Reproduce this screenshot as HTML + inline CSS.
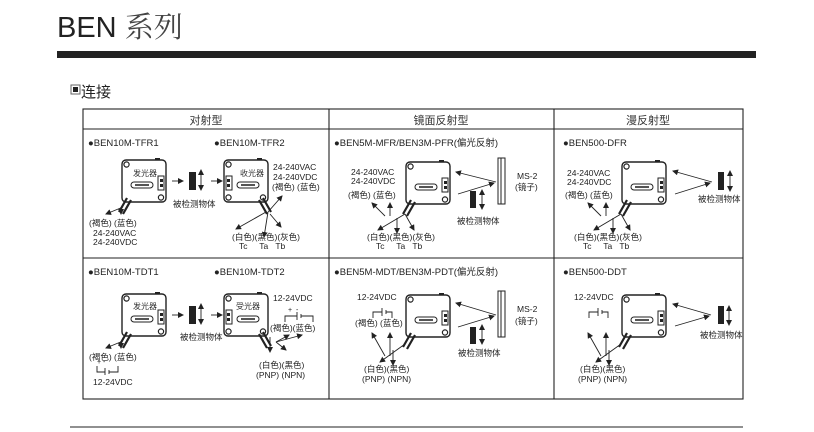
<!DOCTYPE html>
<html><head><meta charset="utf-8"><style>
body{margin:0;background:#fff;}
svg{display:block;font-family:"Liberation Sans","Noto Sans CJK SC",sans-serif;}
</style></head><body>
<svg width="814" height="432" viewBox="0 0 814 432" xmlns="http://www.w3.org/2000/svg">
<defs>
<marker id="a" markerWidth="6" markerHeight="6" refX="5" refY="3" orient="auto" markerUnits="userSpaceOnUse"><path d="M0,0 L6,3 L0,6z" fill="#222"/></marker>
<g id="sR">
 <rect x="0" y="0" width="44" height="42" rx="4" fill="#fff" stroke="#222" stroke-width="1.4"/>
 <rect x="33" y="-2" width="5" height="2" fill="#222"/>
 <circle cx="4.5" cy="4.5" r="2.6" fill="none" stroke="#222" stroke-width="1.2"/>
 <circle cx="39" cy="37.5" r="2.6" fill="none" stroke="#222" stroke-width="1.2"/>
 <rect x="9" y="22" width="22" height="6" rx="3" fill="#fff" stroke="#222" stroke-width="1"/>
 <rect x="13" y="24" width="14" height="2" fill="#555"/>
 <rect x="36" y="16" width="6" height="14" fill="#fff" stroke="#222" stroke-width="1"/>
 <rect x="38" y="19" width="3" height="3" fill="#222"/><rect x="38" y="24" width="3" height="3" fill="#222"/>
 <path d="M5,38 L-3,52 M9,40 L1,54" stroke="#222" stroke-width="2.2"/>
</g>
<g id="sL">
 <rect x="0" y="0" width="44" height="42" rx="4" fill="#fff" stroke="#222" stroke-width="1.4"/>
 <rect x="33" y="-2" width="5" height="2" fill="#222"/>
 <circle cx="4.5" cy="4.5" r="2.6" fill="none" stroke="#222" stroke-width="1.2"/>
 <circle cx="4.5" cy="37.5" r="2.6" fill="none" stroke="#222" stroke-width="1.2"/>
 <circle cx="39" cy="37.5" r="2.6" fill="none" stroke="#222" stroke-width="1.2"/>
 <rect x="13" y="22" width="22" height="6" rx="3" fill="#fff" stroke="#222" stroke-width="1"/>
 <rect x="17" y="24" width="14" height="2" fill="#555"/>
 <rect x="2" y="16" width="6" height="14" fill="#fff" stroke="#222" stroke-width="1"/>
 <rect x="3" y="19" width="3" height="3" fill="#222"/><rect x="3" y="24" width="3" height="3" fill="#222"/>
 <path d="M39,38 L47,52 M35,40 L43,54" stroke="#222" stroke-width="2.2"/>
</g>
</defs>

<text x="57" y="37" font-size="29" fill="#222">BEN <tspan font-family="Noto Serif CJK SC,serif" fill="#444">系列</tspan></text>
<rect x="57" y="51" width="699" height="7" fill="#222"/>
<rect x="71" y="85" width="9" height="9" fill="#fff" stroke="#666"/><rect x="73" y="87" width="5" height="5" fill="#222"/>
<text x="81" y="97" font-size="15" fill="#222">连接</text>

<g stroke="#222" stroke-width="1.1" fill="none">
<rect x="83" y="109" width="660" height="290"/>
<line x1="83" y1="129" x2="743" y2="129"/>
<line x1="83" y1="258" x2="743" y2="258"/>
<line x1="329" y1="109" x2="329" y2="399"/>
<line x1="554" y1="109" x2="554" y2="399"/>
<line x1="70" y1="427" x2="743" y2="427"/>
</g>
<g font-size="11" fill="#333" text-anchor="middle">
<text x="206" y="124">对射型</text><text x="441" y="124">镜面反射型</text><text x="648" y="124">漫反射型</text>
</g>

<g font-size="9.5" fill="#222">
<text x="88" y="146">●BEN10M-TFR1</text><text x="214" y="146">●BEN10M-TFR2</text>
<text x="334" y="146">●BEN5M-MFR/BEN3M-PFR(偏光反射)</text><text x="563" y="146">●BEN500-DFR</text>
<text x="88" y="275">●BEN10M-TDT1</text><text x="214" y="275">●BEN10M-TDT2</text>
<text x="334" y="275">●BEN5M-MDT/BEN3M-PDT(偏光反射)</text><text x="563" y="275">●BEN500-DDT</text>
</g>

<use href="#sR" x="122" y="160"/><use href="#sL" x="224" y="160"/>
<use href="#sR" x="406" y="162"/><use href="#sR" x="622" y="162"/>
<use href="#sR" x="122" y="294"/><use href="#sL" x="224" y="294"/>
<use href="#sR" x="406" y="295"/><use href="#sR" x="622" y="295"/>
<g font-size="8" fill="#333">
<text x="133" y="176">发光器</text><text x="240" y="176">收光器</text>
<text x="133" y="309">发光器</text><text x="236" y="309">受光器</text>
</g>

<g stroke="#222" stroke-width="0.9" fill="none" marker-end="url(#a)">
<line x1="172" y1="181" x2="183" y2="181"/><line x1="211" y1="181" x2="222" y2="181"/>
<line x1="201" y1="180" x2="201" y2="170"/><line x1="201" y1="180" x2="201" y2="190"/>
<line x1="123" y1="207" x2="106" y2="214"/><line x1="121" y1="207" x2="121" y2="214"/>
<line x1="268" y1="212" x2="264" y2="237"/><line x1="268" y1="212" x2="282" y2="196"/><line x1="270" y1="214" x2="281" y2="227"/><line x1="266" y1="212" x2="236" y2="229"/>
<line x1="496" y1="182" x2="456" y2="172"/><line x1="458" y1="194" x2="494" y2="183"/>
<line x1="482" y1="199" x2="482" y2="190"/><line x1="482" y1="199" x2="482" y2="209"/>
<line x1="385" y1="216" x2="372" y2="203"/><line x1="390" y1="216" x2="390" y2="203"/>
<line x1="405" y1="214" x2="378" y2="230"/><line x1="397" y1="218" x2="397" y2="233"/><line x1="405" y1="214" x2="414" y2="230"/>
<line x1="712" y1="182" x2="673" y2="171"/><line x1="675" y1="194" x2="710" y2="183"/>
<line x1="730" y1="181" x2="730" y2="171"/><line x1="730" y1="181" x2="730" y2="191"/>
<line x1="601" y1="216" x2="588" y2="203"/><line x1="606" y1="216" x2="606" y2="203"/>
<line x1="621" y1="214" x2="594" y2="230"/><line x1="613" y1="218" x2="613" y2="233"/><line x1="621" y1="214" x2="630" y2="230"/>
<line x1="172" y1="315" x2="183" y2="315"/><line x1="211" y1="315" x2="222" y2="315"/>
<line x1="201" y1="314" x2="201" y2="304"/><line x1="201" y1="314" x2="201" y2="324"/>
<line x1="123" y1="341" x2="106" y2="348"/><line x1="121" y1="341" x2="121" y2="348"/>
<line x1="270" y1="337" x2="270" y2="352"/><line x1="276" y1="342" x2="289" y2="335"/><line x1="276" y1="342" x2="302" y2="335"/><line x1="276" y1="342" x2="286" y2="350"/>
<line x1="496" y1="315" x2="456" y2="303"/><line x1="458" y1="327" x2="494" y2="316"/>
<line x1="482" y1="334" x2="482" y2="325"/><line x1="482" y1="334" x2="482" y2="344"/>
<line x1="385" y1="356" x2="372" y2="333"/><line x1="390" y1="356" x2="390" y2="333"/>
<line x1="405" y1="344" x2="380" y2="362"/><line x1="393" y1="350" x2="393" y2="365"/>
<line x1="711" y1="315" x2="673" y2="304"/><line x1="675" y1="326" x2="709" y2="316"/>
<line x1="729" y1="315" x2="729" y2="306"/><line x1="729" y1="315" x2="729" y2="325"/>
<line x1="601" y1="356" x2="588" y2="333"/><line x1="606" y1="356" x2="606" y2="333"/>
<line x1="621" y1="344" x2="596" y2="362"/><line x1="609" y1="350" x2="609" y2="365"/>
</g>

<g fill="#222">
<rect x="189" y="172" width="7" height="18"/><rect x="189" y="306" width="7" height="18"/>
<rect x="470" y="191" width="6" height="17"/><rect x="470" y="327" width="6" height="17"/>
<rect x="718" y="172" width="6" height="18"/><rect x="718" y="306" width="6" height="18"/>
</g>
<g stroke="#222" stroke-width="1" fill="#fff">
<rect x="498" y="158" width="7" height="46"/><line x1="501" y1="158" x2="501" y2="204"/>
<rect x="498" y="291" width="7" height="46"/><line x1="501" y1="291" x2="501" y2="337"/>
</g>

<g stroke="#222" stroke-width="0.9" fill="none">
<path d="M97,366 V372 H105 M109,372 H118 V366 M105,368 V375 M109,370 V374"/>
<path d="M285,322 V316 H297 M301,316 H313 V322 M297,312 V320 M301,314 V318"/>
<path d="M373,318 V312 H382 M386,312 H392 V318 M382,308 V316 M386,310 V314"/>
<path d="M589,318 V312 H598 M602,312 H608 V318 M598,308 V316 M602,310 V314"/>
</g>

<g font-size="8.5" fill="#222">
<text x="173" y="207">被检测物体</text>
<text x="89" y="226">(褐色) (蓝色)</text><text x="93" y="236">24-240VAC</text><text x="93" y="245">24-240VDC</text>
<text x="273" y="170">24-240VAC</text><text x="273" y="180">24-240VDC</text><text x="272" y="190">(褐色) (蓝色)</text>
<text x="232" y="240">(白色)(黑色)(灰色)</text><text x="239" y="249">Tc&#160;&#160;&#160;&#160;&#160;Ta&#160;&#160;&#160;Tb</text>
<text x="351" y="175">24-240VAC</text><text x="351" y="184">24-240VDC</text><text x="348" y="198">(褐色) (蓝色)</text>
<text x="367" y="240">(白色)(黑色)(灰色)</text><text x="376" y="249">Tc&#160;&#160;&#160;&#160;&#160;Ta&#160;&#160;&#160;Tb</text>
<text x="517" y="179">MS-2</text><text x="515" y="190">(镜子)</text><text x="457" y="224">被检测物体</text>
<text x="567" y="176">24-240VAC</text><text x="567" y="185">24-240VDC</text><text x="565" y="198">(褐色) (蓝色)</text>
<text x="574" y="240">(白色)(黑色)(灰色)</text><text x="583" y="249">Tc&#160;&#160;&#160;&#160;&#160;Ta&#160;&#160;&#160;Tb</text>
<text x="698" y="202">被检测物体</text>
<text x="180" y="340">被检测物体</text>
<text x="89" y="360">(褐色) (蓝色)</text><text x="97" y="364" font-size="7">+ -</text><text x="93" y="385">12-24VDC</text>
<text x="273" y="301">12-24VDC</text><text x="288" y="312" font-size="7">+ &#160;-</text><text x="270" y="331">(褐色)(蓝色)</text>
<text x="259" y="368">(白色)(黑色)</text><text x="256" y="378">(PNP) (NPN)</text>
<text x="357" y="300">12-24VDC</text><text x="355" y="326">(褐色) (蓝色)</text>
<text x="364" y="372">(白色)(黑色)</text><text x="362" y="382">(PNP) (NPN)</text>
<text x="517" y="312">MS-2</text><text x="515" y="324">(镜子)</text><text x="458" y="356">被检测物体</text>
<text x="574" y="300">12-24VDC</text>
<text x="580" y="372">(白色)(黑色)</text><text x="578" y="382">(PNP) (NPN)</text>
<text x="700" y="338">被检测物体</text>
</g>
</svg>
</body></html>
